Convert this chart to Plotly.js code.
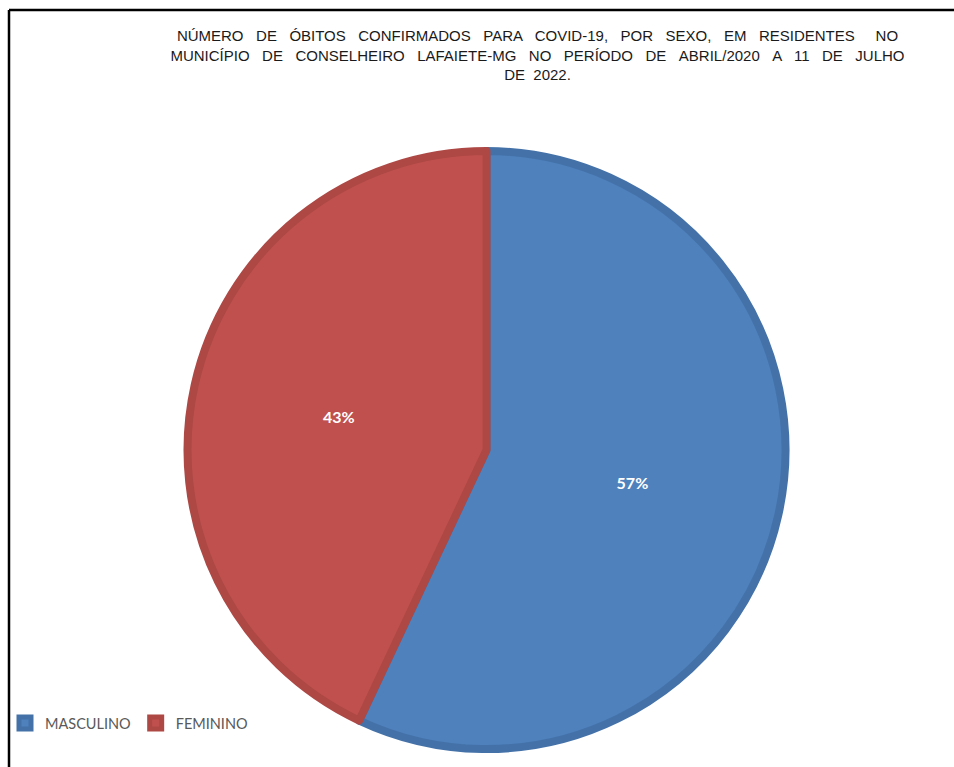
<!DOCTYPE html>
<html>
<head>
<meta charset="utf-8">
<script src="https://cdn.plot.ly/plotly-3.0.1.min.js"></script>
<style>html,body{margin:0;padding:0;background:#fff;}#chart{width:954px;height:767px;}</style>
</head>
<body>
<div id="chart"></div>
<script>
// Data
const sexLabels = ["MASCULINO", "FEMININO"];
const sexPercent = [57, 43];
const sliceColors = ["#4F81BD", "#C0504D"];
const sliceBorders = ["#4472A8", "#AD4845"];

// Title (justified in the original, so word gaps are widened)
const G = " \u00a0\u00a0";
const titleLines = [
  ["NÚMERO", "DE", "ÓBITOS", "CONFIRMADOS", "PARA", "COVID-19,", "POR", "SEXO,", "EM", "RESIDENTES\u00a0\u00a0", "NO"].join(G),
  ["MUNICÍPIO", "DE", "CONSELHEIRO", "LAFAIETE-MG", "NO", "PERÍODO", "DE", "ABRIL/2020", "A", "11", "DE", "JULHO"].join(G),
  "DE\u00a0 2022."
];

const W = 954, H = 767;
const cx = 486.5, cy = 450, r = 299;

const trace = {
  type: "pie",
  labels: sexLabels,
  values: sexPercent,
  sort: false,
  direction: "clockwise",
  rotation: 0,
  marker: { colors: sliceColors, line: { color: sliceBorders, width: 8 } },
  texttemplate: "<b>%{percent}</b>",
  textposition: "inside",
  insidetextorientation: "horizontal",
  textfont: { color: "#ffffff", size: 16, family: "Lato, 'Open Sans', sans-serif" },
  hoverinfo: "label+percent",
  domain: { x: [(cx - r) / W, (cx + r) / W], y: [(H - cy - r) / H, (H - cy + r) / H] }
};

const layout = {
  width: W, height: H,
  margin: { l: 0, r: 0, t: 0, b: 0 },
  paper_bgcolor: "#ffffff",
  showlegend: true,
  title: {
    text: titleLines.join("<br>"),
    font: { family: "'Liberation Sans', Arial, sans-serif", size: 15, color: "#1a1a1a" },
    x: 537.5 / W, xanchor: "center",
    y: 1 - 41 / H, yanchor: "top"
  },
  legend: {
    orientation: "h",
    x: 5 / W, xanchor: "left",
    y: (H - 723) / H, yanchor: "middle",
    bgcolor: "rgba(0,0,0,0)",
    font: { family: "Lato, 'Open Sans', sans-serif", size: 14.5, color: "#595959" },
    itemwidth: 30,
    traceorder: "normal"
  },
  shapes: [
    { type: "line", xref: "paper", yref: "paper", x0: 9 / W, x1: 1, y0: 1 - 10 / H, y1: 1 - 10 / H, line: { color: "#000000", width: 2.5 } },
    { type: "line", xref: "paper", yref: "paper", x0: 9 / W, x1: 9 / W, y0: 1 - 10 / H, y1: 0, line: { color: "#000000", width: 2.5 } }
  ]
};

Plotly.newPlot("chart", [trace], layout, { displayModeBar: false });
</script>
</body>
</html>
